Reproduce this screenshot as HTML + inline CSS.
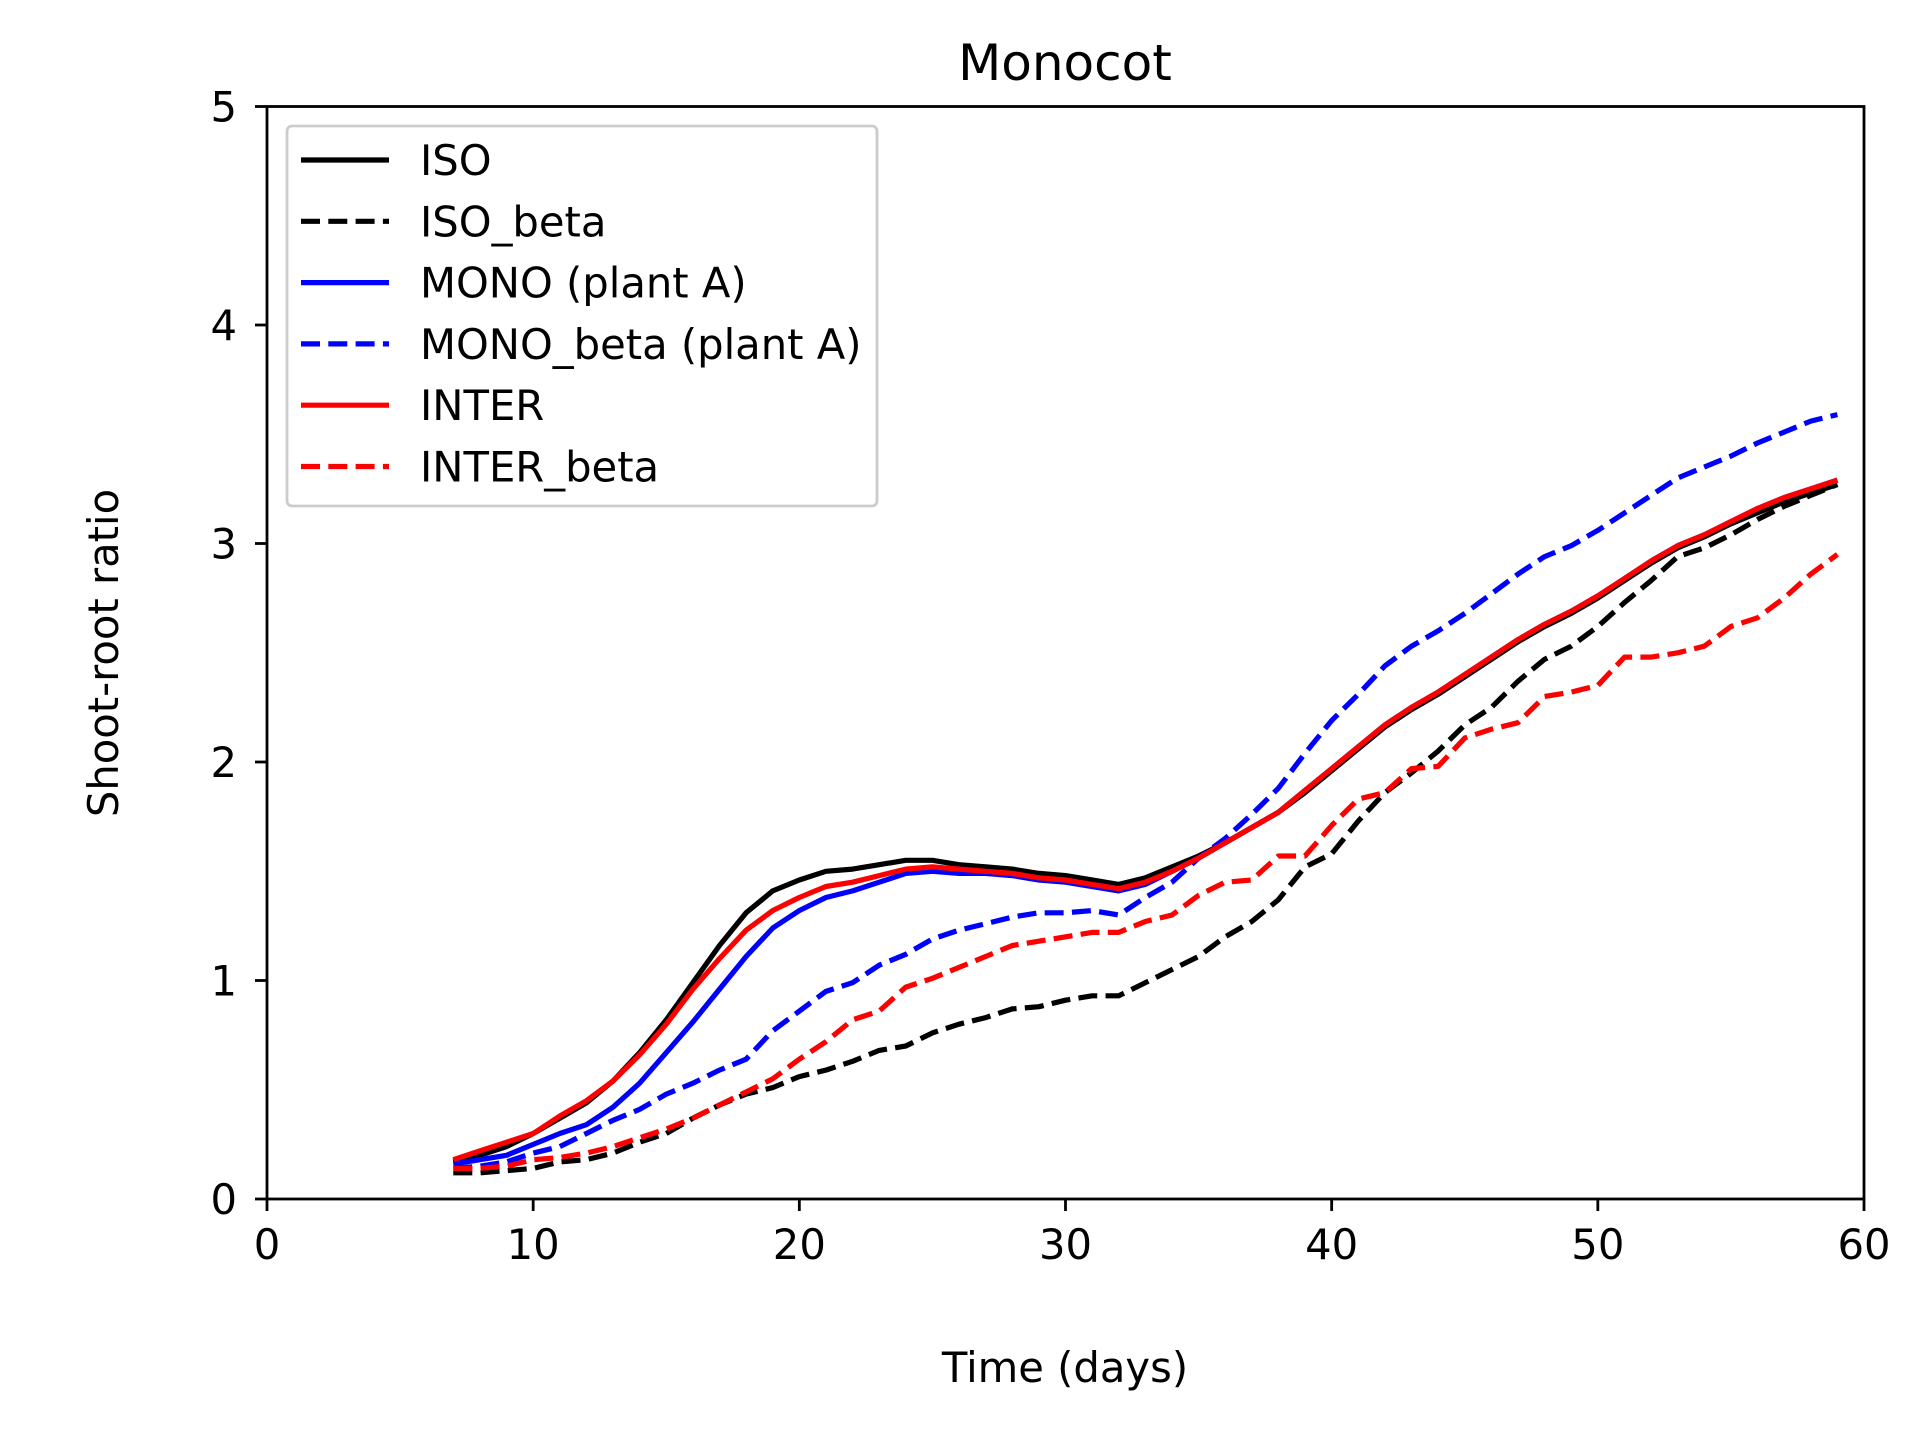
<!DOCTYPE html>
<html><head><meta charset="utf-8"><style>
html,body{margin:0;padding:0;background:#fff;}
svg{display:block;font-family:"DejaVu Sans","Liberation Sans",sans-serif;}
</style></head><body>
<svg id="chart" width="1920" height="1440" viewBox="0 0 1920 1440" xmlns="http://www.w3.org/2000/svg">
<rect width="1920" height="1440" fill="#fff"/>
<text x="1065" y="80" font-size="50" text-anchor="middle">Monocot</text>
<text x="1065" y="1382" font-size="41.7" text-anchor="middle">Time (days)</text>
<text transform="translate(118,653) rotate(-90)" font-size="41.7" text-anchor="middle">Shoot-root ratio</text>
<g id="plot"></g>
</svg>
<script>
const days = [];
for (let d = 7; d <= 59; d++) days.push(d);
const isoVals = [0.17,0.2,0.24,0.3,0.37,0.44,0.54,0.67,0.82,0.99,1.16,1.31,1.41,1.46,1.5,1.51,1.53,1.55,1.55,1.53,1.52,1.51,1.49,1.48,1.46,1.44,1.47,1.52,1.57,1.63,1.7,1.77,1.86,1.96,2.06,2.16,2.24,2.31,2.39,2.47,2.55,2.62,2.68,2.75,2.83,2.91,2.98,3.03,3.09,3.14,3.19,3.23,3.27];
const isoBetaVals = [0.12,0.12,0.13,0.14,0.17,0.18,0.21,0.26,0.3,0.37,0.43,0.48,0.51,0.56,0.59,0.63,0.68,0.7,0.76,0.8,0.83,0.87,0.88,0.91,0.93,0.93,0.99,1.05,1.11,1.2,1.27,1.37,1.52,1.58,1.73,1.86,1.95,2.05,2.17,2.25,2.37,2.47,2.53,2.62,2.73,2.83,2.94,2.98,3.04,3.11,3.17,3.22,3.27];
const monoVals = [0.16,0.18,0.2,0.25,0.3,0.34,0.42,0.53,0.67,0.81,0.96,1.11,1.24,1.32,1.38,1.41,1.45,1.49,1.5,1.49,1.49,1.48,1.46,1.45,1.43,1.41,1.44,1.5,1.56,1.63,1.7,1.77,1.87,1.97,2.07,2.17,2.25,2.32,2.4,2.48,2.56,2.63,2.69,2.76,2.84,2.92,2.99,3.04,3.1,3.16,3.21,3.25,3.29];
const monoBetaVals = [0.14,0.15,0.17,0.21,0.24,0.3,0.36,0.41,0.48,0.53,0.59,0.64,0.77,0.86,0.95,0.99,1.07,1.12,1.19,1.23,1.26,1.29,1.31,1.31,1.32,1.3,1.38,1.45,1.56,1.65,1.76,1.88,2.04,2.19,2.31,2.44,2.53,2.6,2.68,2.77,2.86,2.94,2.99,3.06,3.14,3.22,3.3,3.35,3.4,3.46,3.51,3.56,3.59];
const interVals = [0.18,0.22,0.26,0.3,0.38,0.45,0.54,0.66,0.8,0.96,1.1,1.23,1.32,1.38,1.43,1.45,1.48,1.51,1.52,1.51,1.5,1.49,1.47,1.46,1.44,1.42,1.45,1.5,1.56,1.63,1.7,1.77,1.87,1.97,2.07,2.17,2.25,2.32,2.4,2.48,2.56,2.63,2.69,2.76,2.84,2.92,2.99,3.04,3.1,3.16,3.21,3.25,3.29];
const interBetaVals = [0.14,0.14,0.15,0.18,0.19,0.21,0.24,0.28,0.32,0.37,0.43,0.49,0.55,0.64,0.72,0.82,0.86,0.97,1.01,1.06,1.11,1.16,1.18,1.2,1.22,1.22,1.27,1.3,1.39,1.45,1.46,1.57,1.57,1.71,1.83,1.86,1.97,1.98,2.11,2.15,2.18,2.3,2.32,2.35,2.48,2.48,2.5,2.53,2.62,2.66,2.75,2.86,2.95];
const xTicks = [0,10,20,30,40,50,60];
const yTicks = [0,1,2,3,4,5];
const seriesNames = ["ISO","ISO_beta","MONO (plant A)","MONO_beta (plant A)","INTER","INTER_beta"];

const NS = "http://www.w3.org/2000/svg";
const L = 267, R = 1864, T = 106.5, B = 1199;
const xs = v => L + (v - 0) / 60 * (R - L);
const ys = v => B - (v - 0) / 5 * (B - T);
const g = document.getElementById('plot');
function mk(tag, attrs, parent) {
  const e = document.createElementNS(NS, tag);
  for (const k in attrs) e.setAttribute(k, attrs[k]);
  (parent || g).appendChild(e);
  return e;
}
const series = [
  {vals: isoVals, color: "#000", dash: null, key: "iso"},
  {vals: isoBetaVals, color: "#000", dash: "19 8.3", key: "iso-beta"},
  {vals: monoVals, color: "#0000ff", dash: null, key: "mono"},
  {vals: monoBetaVals, color: "#0000ff", dash: "19 8.3", key: "mono-beta"},
  {vals: interVals, color: "#ff0000", dash: null, key: "inter"},
  {vals: interBetaVals, color: "#ff0000", dash: "19 8.3", key: "inter-beta"}
];
series.forEach(s => {
  const pts = s.vals.map((v, i) => xs(days[i]).toFixed(1) + "," + ys(v).toFixed(1)).join(" ");
  const p = mk('polyline', {points: pts, fill: "none", stroke: s.color, "stroke-width": 5.2, "stroke-linejoin": "round"});
  if (s.dash) p.setAttribute('stroke-dasharray', s.dash);
  
  
});
const fr = mk('rect', {x: L, y: T, width: R - L, height: B - T, fill: "none", stroke: "#000", "stroke-width": 2.8});


xTicks.forEach(t => {
  const ln = mk('line', {x1: xs(t), x2: xs(t), y1: B, y2: B + 12, stroke: "#000", "stroke-width": 2.8});
  
  
  const tx = mk('text', {x: xs(t), y: B + 60, "font-size": 41.7, "text-anchor": "middle"});
  tx.textContent = t;
  
  
});
yTicks.forEach(t => {
  const ln = mk('line', {x1: L - 12, x2: L, y1: ys(t), y2: ys(t), stroke: "#000", "stroke-width": 2.8});
  
  
  const tx = mk('text', {x: L - 30, y: ys(t) + 15, "font-size": 41.7, "text-anchor": "end"});
  tx.textContent = t;
  
  
});
const lg = mk('g', {});


mk('rect', {x: 287, y: 126, width: 590, height: 380, rx: 5, fill: "#fff", "fill-opacity": 0.8, stroke: "#ccc", "stroke-width": 2.8}, lg);
series.forEach((s, i) => {
  const y = 160 + i * 61.3;
  const ln = mk('line', {x1: 301, x2: 389, y1: y, y2: y, stroke: s.color, "stroke-width": 5.2}, lg);
  if (s.dash) ln.setAttribute('stroke-dasharray', s.dash);
  
  
  const tx = mk('text', {x: 420, y: y + 15, "font-size": 41.7}, lg);
  tx.textContent = seriesNames[i];
  
  
});
</script>
</body></html>
